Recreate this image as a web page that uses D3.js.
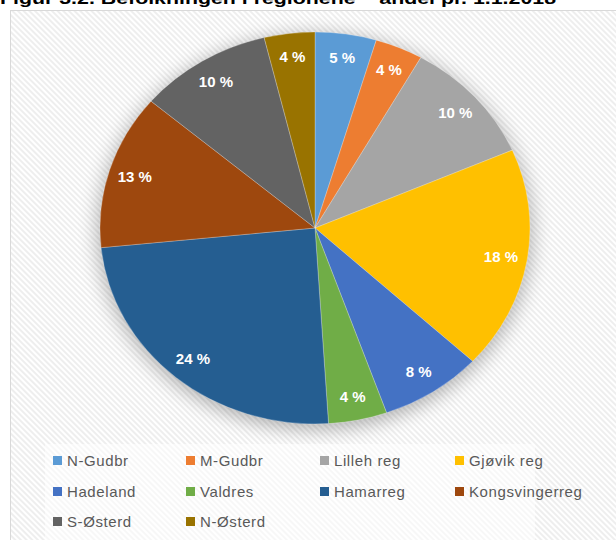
<!DOCTYPE html>
<html>
<head>
<meta charset="utf-8">
<script src="https://cdn.jsdelivr.net/npm/d3@7"></script>
<style>
  body { margin: 0; background: #fff; }
  #pie-chart { width: 616px; height: 540px; overflow: hidden; }
  text { font-family: "Liberation Sans", Arial, sans-serif; }
</style>
</head>
<body>
<div id="pie-chart"></div>
<script>
const regions = ["N-Gudbr", "M-Gudbr", "Lilleh reg", "Gjøvik reg", "Hadeland",
  "Valdres", "Hamarreg", "Kongsvingerreg", "S-Østerd", "N-Østerd"];
const shares = [4.6, 3.6, 10.3, 18.4, 7.7, 4.4, 24.4, 12.8, 10.0, 3.8];
const sliceColors = ["#5B9BD5", "#ED7D31", "#A5A5A5", "#FFC000", "#4472C4",
  "#70AD47", "#255E91", "#9E480E", "#636363", "#997300"];
const title = "Figur 3.2. Befolkningen i regionene – andel pr. 1.1.2018";

function renderPie() {
  const container = d3.select("#pie-chart");
  const width = 616, height = 540;
  const cx = 315, cy = 228, r = 196, stretch = 1.097;

  const svg = container.append("svg").attr("width", width).attr("height", height);
  const defs = svg.append("defs");

  const pat = defs.append("pattern")
    .attr("id", "stripes")
    .attr("patternUnits", "userSpaceOnUse")
    .attr("width", 4).attr("height", 4)
    .attr("patternTransform", "rotate(-45)");
  pat.append("rect").attr("width", 4).attr("height", 4).attr("fill", "#ffffff");
  pat.append("rect").attr("width", 2).attr("height", 4).attr("fill", "#eeeeee");

  const blur = defs.append("filter").attr("id", "halo")
    .attr("x", "-30%").attr("y", "-30%").attr("width", "160%").attr("height", "160%");
  blur.append("feGaussianBlur").attr("stdDeviation", 9);

  // chart area
  svg.append("rect")
    .attr("x", 10.5).attr("y", 10.5)
    .attr("width", 640).attr("height", 560)
    .attr("fill", "url(#stripes)")
    .attr("stroke", "#d9d9d9");

  // title, only its lower part shows at the top edge
  svg.append("text")
    .attr("x", 0).attr("y", 4)
    .attr("font-size", 16).attr("font-weight", "bold")
    .attr("fill", "#000")
    .attr("textLength", 556).attr("lengthAdjust", "spacingAndGlyphs")
    .text(title);

  const pie = d3.pie().sort(null).value(d => d);
  const arcs = pie(shares);
  const arc = d3.arc().innerRadius(0).outerRadius(r);
  const labelArc = d3.arc().innerRadius(172).outerRadius(172);
  const total = d3.sum(shares);

  const g = svg.append("g").attr("transform", `translate(${cx},${cy}) scale(${stretch},1)`);

  g.append("ellipse")
    .attr("cx", 0).attr("cy", 4).attr("rx", r + 2).attr("ry", r + 2)
    .attr("fill", "#000").attr("opacity", 0.28)
    .attr("filter", "url(#halo)");

  g.selectAll("path.slice")
    .data(arcs)
    .enter()
    .append("path")
    .attr("class", "slice")
    .attr("d", arc)
    .attr("fill", (d, i) => sliceColors[i])
    .attr("stroke", "rgba(255,255,255,0.35)")
    .attr("stroke-width", 0.7);

  svg.append("g").selectAll("text")
    .data(arcs)
    .enter()
    .append("text")
    .attr("x", d => cx + labelArc.centroid(d)[0] * stretch)
    .attr("y", d => cy + labelArc.centroid(d)[1])
    .attr("dy", "0.35em")
    .attr("text-anchor", "middle")
    .attr("font-size", 15).attr("font-weight", "bold")
    .attr("fill", "#fff")
    .text(d => Math.round(d.value / total * 100) + " %");

  // legend
  svg.append("rect")
    .attr("x", 45).attr("y", 444).attr("width", 490).attr("height", 96)
    .attr("fill", "#fff").attr("opacity", 0.55);

  const colX = [53, 186, 320, 455];
  const rowY = [461, 492, 522];
  const items = svg.append("g").selectAll("g")
    .data(regions)
    .enter()
    .append("g")
    .attr("transform", (d, i) => `translate(${colX[i % 4]},${rowY[Math.floor(i / 4)]})`);

  items.append("rect")
    .attr("x", 0).attr("y", -5).attr("width", 9).attr("height", 9)
    .attr("fill", (d, i) => sliceColors[i]);

  items.append("text")
    .attr("x", 14).attr("y", 0).attr("dy", "0.35em")
    .attr("font-size", 15).attr("letter-spacing", 0.6).attr("fill", "#595959")
    .text(d => d);
}

renderPie();
</script>
</body>
</html>
